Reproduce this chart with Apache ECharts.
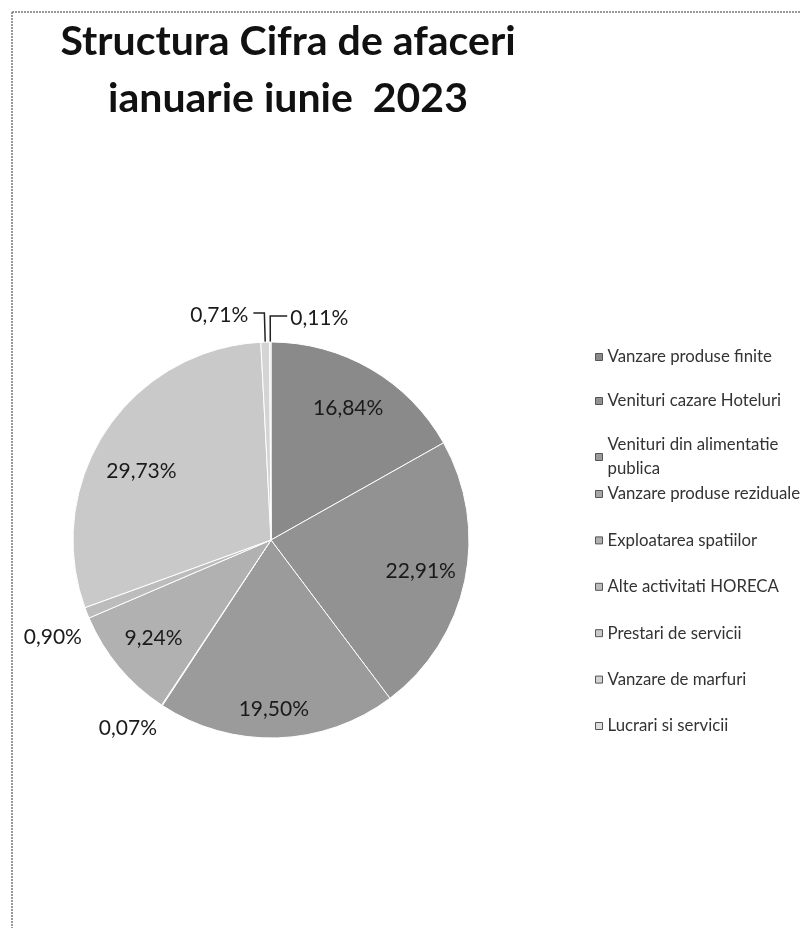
<!DOCTYPE html>
<html><head><meta charset="utf-8">
<script src="https://cdn.jsdelivr.net/npm/echarts@6/dist/echarts.min.js"></script>
<style>html,body{margin:0;padding:0;background:#fff}#c{width:801px;height:928px}</style>
</head><body><div id="c"></div>
<script>
// ---- data ----
const titleLines = ['Structura Cifra de afaceri', 'ianuarie iunie  2023'];
const categories = [
  'Vanzare produse finite',
  'Venituri cazare Hoteluri',
  'Venituri din alimentatie publica',
  'Vanzare produse reziduale',
  'Exploatarea spatiilor',
  'Alte activitati HORECA',
  'Prestari de servicii',
  'Vanzare de marfuri',
  'Lucrari si servicii'
];
const values = [16.84, 22.91, 19.50, 0.07, 9.24, 0.90, 29.73, 0.71, 0.11];

// ---- styles ----
const sliceColors = ['#8a8a8a', '#929292', '#9b9b9b', '#a6a6a6', '#b1b1b1', '#bcbcbc', '#c9c9c9', '#d4d4d4', '#dedede'];
const insideLabelIdx = [0, 1, 2, 4, 6];
const outsideLabelIdx = [3, 5, 7, 8];
// per-label nudges [dx, dy]
const outsideShift = { 3: [0, 23], 5: [0, 24], 7: [0, 2] };
const insideShift = { 2: [-2, 16], 6: [-2, 16] };
const mirroredLineIdx = 8;
const legendWrap = { 'Venituri din alimentatie publica': 'Venituri din alimentatie\npublica' };

const fmt = v => v.toFixed(2).replace('.', ',') + '%';
const FONT = 'Lato, "Open Sans", sans-serif';

const mainData = categories.map((n, i) => {
  const outside = outsideLabelIdx.includes(i);
  const d = { name: n, value: values[i], itemStyle: { color: sliceColors[i] } };
  d.label = { show: outside };
  if (i === 3 || i === 5) d.labelLine = { show: false, length: 0, length2: 0 };
  if (i === mirroredLineIdx) d.labelLine = { length: 26, length2: 17 };
  return d;
});
const labelData = categories.map((n, i) => ({
  name: n, value: values[i],
  label: { show: insideLabelIdx.includes(i) }
}));

const legendIconStyle = { borderColor: '#555', borderWidth: 1 };

const chart = echarts.init(document.getElementById('c'), null, { renderer: 'canvas' });
chart.setOption({
  animation: false,
  backgroundColor: '#fff',
  title: {
    text: titleLines.join('\n'),
    left: 288, top: 13, textAlign: 'center', padding: 0,
    textStyle: { fontFamily: FONT, fontWeight: 'bold', fontSize: 41, lineHeight: 57, color: '#111' }
  },
  legend: [
    {
      orient: 'vertical', left: 595, top: 345, itemGap: 20, padding: 0,
      icon: 'rect', itemWidth: 7, itemHeight: 7, selectedMode: false,
      itemStyle: legendIconStyle,
      data: categories.slice(0, 3),
      formatter: n => legendWrap[n] || n,
      textStyle: { fontFamily: FONT, fontSize: 16.8, lineHeight: 24, color: '#333' }
    },
    {
      orient: 'vertical', left: 595, top: 485, itemGap: 28.4, padding: 0,
      icon: 'rect', itemWidth: 7, itemHeight: 7, selectedMode: false,
      itemStyle: legendIconStyle,
      data: categories.slice(3),
      textStyle: { fontFamily: FONT, fontSize: 16.8, lineHeight: 18, color: '#333' }
    }
  ],
  graphic: [
    { type: 'line', shape: { x1: 12, y1: 12, x2: 801, y2: 12 }, style: { stroke: '#777', lineWidth: 1.5, lineDash: [2, 1] } },
    { type: 'line', shape: { x1: 12, y1: 12, x2: 12, y2: 928 }, style: { stroke: '#777', lineWidth: 1.5, lineDash: [2, 1] } }
  ],
  series: [
    {
      type: 'pie', center: [271, 540], radius: [0, 198], startAngle: 90, clockwise: true,
      avoidLabelOverlap: false,
      itemStyle: { borderColor: '#fff', borderWidth: 1 },
      label: {
        position: 'outside', formatter: p => fmt(p.value),
        fontFamily: FONT, fontSize: 21, color: '#1a1a1a', distanceToLabelLine: 5
      },
      labelLine: { show: true, length: 29, length2: 11, lineStyle: { color: '#222', width: 1.5 } },
      labelLayout: p => {
        if (p.dataIndex === mirroredLineIdx && p.labelLinePoints) {
          const lp = p.labelLinePoints;
          const endX = 2 * lp[1][0] - lp[2][0];
          return {
            x: endX + 3, y: lp[2][1] + 2, align: 'left',
            labelLinePoints: [lp[0], lp[1], [endX, lp[2][1]]]
          };
        }
        const s = outsideShift[p.dataIndex];
        return s ? { dx: s[0], dy: s[1] } : {};
      },
      emphasis: { disabled: true },
      data: mainData
    },
    {
      type: 'pie', center: [271, 540], radius: [102, 198], startAngle: 90, clockwise: true,
      silent: true, avoidLabelOverlap: false,
      itemStyle: { color: 'rgba(0,0,0,0)' },
      label: {
        position: 'inside', formatter: p => fmt(p.value),
        fontFamily: FONT, fontSize: 21, color: '#1a1a1a'
      },
      labelLine: { show: false },
      labelLayout: p => {
        const s = insideShift[p.dataIndex];
        return s ? { dx: s[0], dy: s[1] } : {};
      },
      emphasis: { disabled: true },
      data: labelData
    }
  ]
});
</script>
</body></html>
